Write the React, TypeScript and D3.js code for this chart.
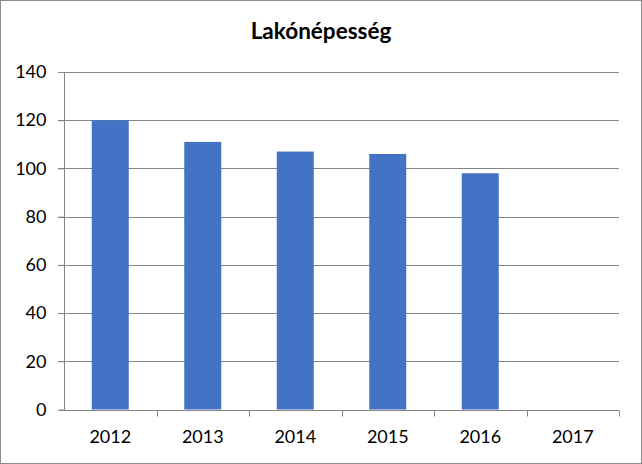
import React, { useEffect, useRef } from 'react';
import * as d3 from 'd3';

const years = ['2012', '2013', '2014', '2015', '2016', '2017'];
const population: (number | null)[] = [120, 111, 107, 106, 98, null];
const yTicks = [0, 20, 40, 60, 80, 100, 120, 140];
const chartTitle = 'Lakónépesség';

export default function App() {
  const svgRef = useRef<SVGSVGElement>(null);

  useEffect(() => {
    document.body.style.margin = '0';
    if (!svgRef.current) return;
    const svg = d3.select(svgRef.current);
    svg.selectAll('*').remove();

    const W = 642;
    const H = 464;
    const left = 64, right = 619, top = 72, bottom = 409.5;
    const font = 'Lato, "Open Sans", sans-serif';

    svg.append('rect')
      .attr('x', 0.5).attr('y', 0.5)
      .attr('width', W - 1).attr('height', H - 1)
      .attr('fill', 'white').attr('stroke', '#8c8c8c');

    svg.append('text')
      .attr('x', W / 2).attr('y', 39)
      .attr('text-anchor', 'middle')
      .attr('font-family', font)
      .attr('font-weight', 'bold')
      .attr('font-size', 22.5)
      .attr('fill', '#000')
      .text(chartTitle);

    const x = d3.scaleBand().domain(years).range([left, right]).paddingInner(0.6).paddingOuter(0.3);
    const xOuter = d3.scaleBand().domain(years).range([left, right]);
    const y = d3.scaleLinear().domain([0, 140]).range([bottom, top]);

    // gridlines
    svg.append('g')
      .selectAll('line')
      .data(yTicks.filter(t => t > 0))
      .join('line')
      .attr('x1', left - 6).attr('x2', right)
      .attr('y1', d => Math.round(y(d)) + 0.5).attr('y2', d => Math.round(y(d)) + 0.5)
      .attr('stroke', '#868686');

    // bars
    svg.append('g')
      .selectAll('rect')
      .data(years.map((yr, i) => ({ yr, v: population[i] })).filter(d => d.v != null))
      .join('rect')
      .attr('x', d => x(d.yr)!)
      .attr('width', x.bandwidth())
      .attr('y', d => y(d.v as number))
      .attr('height', d => y(0) - y(d.v as number))
      .attr('fill', '#4472C4');

    // y axis
    const yAxis = svg.append('g')
      .attr('transform', `translate(${left + 0.5},0)`)
      .call(d3.axisLeft(y).tickValues(yTicks).tickSize(6).tickPadding(12));
    yAxis.select('.domain').attr('stroke', '#868686').attr('d', `M-6,${Math.round(bottom) + 0.5}H0V${top}`);
    yAxis.selectAll('.tick line').attr('stroke', '#868686');
    yAxis.selectAll('.tick text').attr('font-family', font).attr('font-size', 18).attr('fill', '#000');

    // x axis
    const xAxis = svg.append('g')
      .attr('transform', `translate(0,${Math.round(bottom) + 0.5})`)
      .call(d3.axisBottom(xOuter).tickSize(0).tickPadding(20));
    xAxis.select('.domain').attr('stroke', '#868686').attr('d', `M${left},0H${right}`);
    xAxis.selectAll('.tick text').attr('font-family', font).attr('font-size', 18).attr('fill', '#000');
    xAxis.append('g')
      .selectAll('line')
      .data(years)
      .join('line')
      .attr('x1', d => Math.round(xOuter(d)! + xOuter.bandwidth()) + 0.5)
      .attr('x2', d => Math.round(xOuter(d)! + xOuter.bandwidth()) + 0.5)
      .attr('y1', 0).attr('y2', 6)
      .attr('stroke', '#868686');
  }, []);

  return <svg ref={svgRef} width={642} height={464} style={{ display: 'block' }} />;
}
